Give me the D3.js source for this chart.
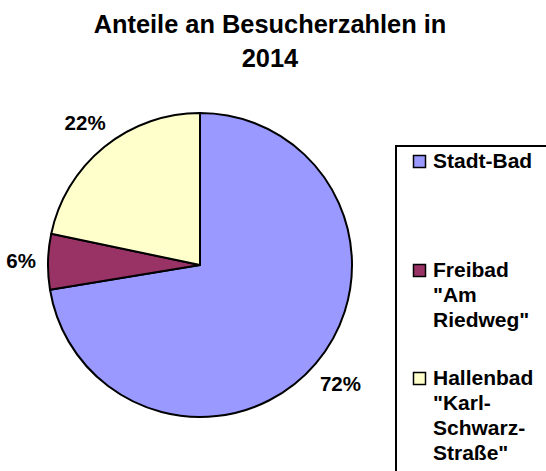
<!DOCTYPE html>
<html>
<head>
<meta charset="utf-8">
<script src="https://cdn.jsdelivr.net/npm/d3@7"></script>
<style>
  body { margin: 0; background: #fff; }
  text { font-family: "Liberation Sans", Arial, sans-serif; font-weight: bold; fill: #000; }
</style>
</head>
<body>
<div id="chart"></div>
<script>
// Data
const categories = ["Stadt-Bad", "Freibad \"Am Riedweg\"", "Hallenbad \"Karl-Schwarz-Straße\""];
const values = [72.4, 5.9, 21.7];
const colors = ["#9999FF", "#993366", "#FFFFCC"];
const legendLines = [
  ["Stadt-Bad"],
  ["Freibad", "\"Am", "Riedweg\""],
  ["Hallenbad", "\"Karl-", "Schwarz-", "Straße\""]
];
const titleLines = ["Anteile an Besucherzahlen in", "2014"];

const width = 546;
const height = 471;
const cx = 200, cy = 265, radius = 152;

const svg = d3.select("#chart")
  .append("svg")
  .attr("width", width)
  .attr("height", height);

// Title
svg.append("g")
  .selectAll("text")
  .data(titleLines)
  .enter()
  .append("text")
    .attr("x", 270)
    .attr("y", (d, i) => 33 + i * 34)
    .attr("text-anchor", "middle")
    .style("font-size", "25.4px")
    .text(d => d);

// Pie
const total = d3.sum(values);
const pie = d3.pie().sort(null).value(d => d);
const arcs = pie(values);
const arc = d3.arc().innerRadius(0).outerRadius(radius);

const g = svg.append("g").attr("transform", `translate(${cx},${cy})`);

g.selectAll("path")
  .data(arcs)
  .enter()
  .append("path")
    .attr("d", arc)
    .attr("fill", (d, i) => colors[i])
    .attr("stroke", "#000")
    .attr("stroke-width", 2)
    .attr("stroke-linejoin", "round");

// Percent labels outside the slices
const fmt = d => Math.round(d / total * 100) + "%";
g.selectAll("text")
  .data(arcs)
  .enter()
  .append("text")
    .style("font-size", "20.5px")
    .attr("text-anchor", "middle")
    .text(d => fmt(d.value))
    .each(function(d) {
      const a = (d.startAngle + d.endAngle) / 2;
      const bb = this.getBBox();
      const s = Math.sin(a), c = -Math.cos(a);
      const rr = radius + 12 + Math.abs(s) * bb.width / 2 + Math.abs(c) * 7;
      d3.select(this)
        .attr("x", s * rr)
        .attr("y", c * rr + 7);
    });

// Legend
const legend = svg.append("g");
legend.append("rect")
  .attr("x", 396)
  .attr("y", 146)
  .attr("width", 200)
  .attr("height", 400)
  .attr("fill", "#fff")
  .attr("stroke", "#000")
  .attr("stroke-width", 2);

const legendY = [168, 277, 385];
const items = legend.selectAll("g.item")
  .data(categories)
  .enter()
  .append("g")
    .attr("class", "item")
    .attr("transform", (d, i) => `translate(413,${legendY[i]})`);

items.append("rect")
  .attr("x", 0.5)
  .attr("y", -12.5)
  .attr("width", 12)
  .attr("height", 12)
  .attr("fill", (d, i) => colors[i])
  .attr("stroke", "#000")
  .attr("stroke-width", 1.5);

items.each(function(d, i) {
  d3.select(this)
    .selectAll("text")
    .data(legendLines[i])
    .enter()
    .append("text")
      .attr("x", 20)
      .attr("y", (t, j) => j * 25)
      .style("font-size", "21px")
      .text(t => t);
});
</script>
</body>
</html>
